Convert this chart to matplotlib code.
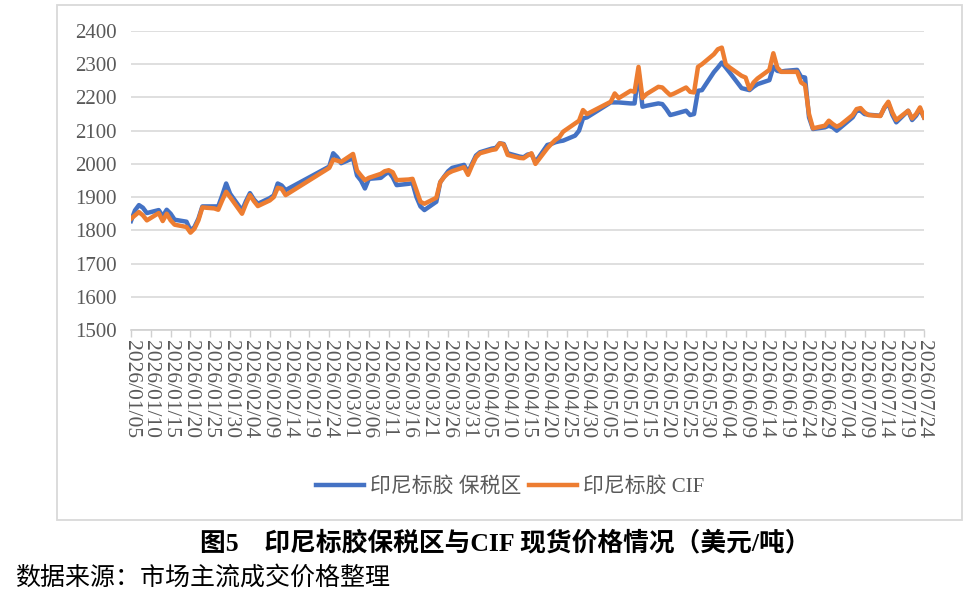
import pandas as pd
import matplotlib
matplotlib.use("Agg")
import matplotlib.pyplot as plt
import matplotlib.dates as mdates
from matplotlib.patches import Rectangle

plt.rcParams['font.family'] = ['Liberation Serif', 'Noto Sans CJK SC', 'DejaVu Sans']

dates = [
    "2026-01-05", "2026-01-06", "2026-01-07", "2026-01-08", "2026-01-09",
    "2026-01-12", "2026-01-13", "2026-01-14", "2026-01-15", "2026-01-16",
    "2026-01-19", "2026-01-20", "2026-01-21", "2026-01-22", "2026-01-23",
    "2026-01-26", "2026-01-27", "2026-01-28", "2026-01-29", "2026-01-30",
    "2026-02-02", "2026-02-03", "2026-02-04", "2026-02-05", "2026-02-06",
    "2026-02-09", "2026-02-10", "2026-02-11", "2026-02-12", "2026-02-13",
    "2026-02-24", "2026-02-25", "2026-02-26", "2026-02-27",
    "2026-03-02", "2026-03-03", "2026-03-04", "2026-03-05", "2026-03-06",
    "2026-03-09", "2026-03-10", "2026-03-11", "2026-03-12", "2026-03-13",
    "2026-03-16", "2026-03-17", "2026-03-18", "2026-03-19", "2026-03-20",
    "2026-03-23", "2026-03-24", "2026-03-25", "2026-03-26", "2026-03-27",
    "2026-03-30", "2026-03-31", "2026-04-01", "2026-04-02", "2026-04-03",
    "2026-04-06", "2026-04-07", "2026-04-08", "2026-04-09", "2026-04-10",
    "2026-04-13", "2026-04-14", "2026-04-15", "2026-04-16", "2026-04-17",
    "2026-04-20", "2026-04-21", "2026-04-22", "2026-04-23", "2026-04-24",
    "2026-04-27", "2026-04-28", "2026-04-29", "2026-04-30",
    "2026-05-06", "2026-05-07", "2026-05-08",
    "2026-05-11", "2026-05-12", "2026-05-13", "2026-05-14", "2026-05-15",
    "2026-05-18", "2026-05-19", "2026-05-20", "2026-05-21", "2026-05-22",
    "2026-05-25", "2026-05-26", "2026-05-27", "2026-05-28", "2026-05-29",
    "2026-06-01", "2026-06-02", "2026-06-03", "2026-06-04", "2026-06-05",
    "2026-06-08", "2026-06-09", "2026-06-10", "2026-06-11", "2026-06-12",
    "2026-06-15", "2026-06-16", "2026-06-17", "2026-06-18", "2026-06-19",
    "2026-06-22", "2026-06-23", "2026-06-24", "2026-06-25", "2026-06-26",
    "2026-06-29", "2026-06-30", "2026-07-01", "2026-07-02", "2026-07-03",
    "2026-07-06", "2026-07-07", "2026-07-08", "2026-07-09", "2026-07-10",
    "2026-07-13", "2026-07-14", "2026-07-15", "2026-07-16", "2026-07-17",
    "2026-07-20", "2026-07-21", "2026-07-22", "2026-07-23", "2026-07-24",
]

# 印尼标胶 保税区
bonded = [
    1828, 1860, 1876, 1868, 1852, 1861, 1842, 1862, 1850, 1832,
    1826, 1800, 1810, 1835, 1872, 1872, 1872, 1905, 1941, 1910,
    1860, 1888, 1912, 1893, 1880, 1897, 1905, 1941, 1935, 1921,
    1992, 2032, 2020, 2002,
    2017, 1965, 1950, 1926, 1955, 1958, 1968, 1976, 1960, 1936,
    1940, 1942, 1900, 1872, 1861, 1886, 1945, 1962, 1978, 1988,
    1997, 1975, 2000, 2025, 2035, 2046, 2048, 2062, 2060, 2032,
    2022, 2020, 2028, 2030, 2005, 2057, 2060, 2065, 2068, 2070,
    2085, 2100, 2137, 2140,
    2185, 2185, 2185,
    2182, 2182, 2277, 2172, 2175, 2182, 2180, 2165, 2147, 2150,
    2160, 2147, 2150, 2220, 2222,
    2276, 2290, 2305, 2290, 2275, 2228, 2225, 2222, 2232, 2240,
    2252, 2292, 2280, 2278, 2280, 2283, 2262, 2260, 2140, 2105,
    2110, 2115, 2110, 2100, 2110, 2140, 2160, 2160, 2150, 2148,
    2145, 2168, 2183, 2148, 2125, 2160, 2132, 2145, 2165, 2140,
]

# 印尼标胶 CIF
cif = [
    1835, 1845, 1855, 1845, 1830, 1852, 1828, 1850, 1830, 1817,
    1810, 1793, 1805, 1830, 1869, 1866, 1862, 1890, 1916, 1900,
    1850, 1880, 1906, 1888, 1873, 1890, 1900, 1928, 1925, 1906,
    1988, 2013, 2010, 2006,
    2030, 1980, 1965, 1951, 1958, 1970, 1978, 1981, 1975, 1951,
    1953, 1955, 1920, 1886, 1880, 1898, 1945, 1961, 1972, 1978,
    1990, 1967, 1995, 2020, 2032, 2042, 2044, 2062, 2058, 2027,
    2018, 2017, 2025, 2032, 2000, 2047, 2060, 2072, 2080, 2097,
    2122, 2130, 2162, 2150,
    2187, 2212, 2198,
    2220, 2217, 2292, 2198, 2210, 2232, 2230, 2218, 2207, 2212,
    2230, 2217, 2215, 2292, 2300,
    2330, 2345, 2350, 2300, 2290, 2265, 2260, 2225, 2245, 2257,
    2283, 2333, 2290, 2277, 2277, 2277, 2245, 2237, 2150, 2107,
    2115, 2130, 2120, 2112, 2118, 2147, 2165, 2168, 2155, 2147,
    2144, 2170, 2187, 2155, 2132, 2160, 2137, 2150, 2170, 2140,
]

series_names = ["印尼标胶 保税区", "印尼标胶 CIF"]
yticks = [1500, 1600, 1700, 1800, 1900, 2000, 2100, 2200, 2300, 2400]

x = pd.to_datetime(dates)

W, H = 980, 595
fig = plt.figure(figsize=(W / 100, H / 100), dpi=100)
ax = fig.add_axes([131 / W, 1 - 330 / H, (924 - 131) / W, (330 - 31) / H])

ax.plot(x, bonded, color="#4472C4", lw=3.2, solid_joinstyle="round",
        label=series_names[0], zorder=3)
ax.plot(x, cif, color="#ED7D31", lw=3.2, solid_joinstyle="round",
        label=series_names[1], zorder=4)

ax.set_ylim(1500, 2400)
ax.set_yticks(yticks)
ax.set_xlim(x[0], x[-1])
ax.set_xticks(pd.date_range(x[0], x[-1], freq="5D"))
ax.xaxis.set_major_formatter(mdates.DateFormatter("%Y/%m/%d"))

ax.grid(axis="y", color="#d9d9d9", lw=1.2)
ax.set_axisbelow(True)
for s in ["top", "right", "left"]:
    ax.spines[s].set_visible(False)
ax.spines["bottom"].set_color("#d0d0d0")
ax.spines["bottom"].set_linewidth(1.2)

ax.tick_params(axis="y", length=0, pad=10, labelsize=15, labelcolor="#595959")
ax.tick_params(axis="x", length=5, width=1, color="#d0d0d0", pad=2,
               labelsize=15.5, labelcolor="#595959", labelrotation=-90)

fig.legend(loc="center", bbox_to_anchor=(510 / W, 1 - 487 / H), ncol=2,
           frameon=False, fontsize=15, handlelength=2.3, handletextpad=0.3,
           columnspacing=0.35, labelcolor="#595959")

fig.add_artist(Rectangle((57 / W, 1 - 520 / H), (962 - 57) / W, (520 - 5) / H,
                         transform=fig.transFigure, fill=False,
                         ec="#d9d9d9", lw=1.3))

fig.text(505 / W, 1 - 543 / H, "图5　印尼标胶保税区与CIF 现货价格情况（美元/吨）",
         ha="center", va="center", fontsize=18.5, fontweight="bold")
fig.text(15 / W, 1 - 578 / H, "数据来源：市场主流成交价格整理",
         ha="left", va="center", fontsize=18,
         family=["Noto Sans CJK SC", "DejaVu Sans"])

fig.savefig("out.png", dpi=100)
